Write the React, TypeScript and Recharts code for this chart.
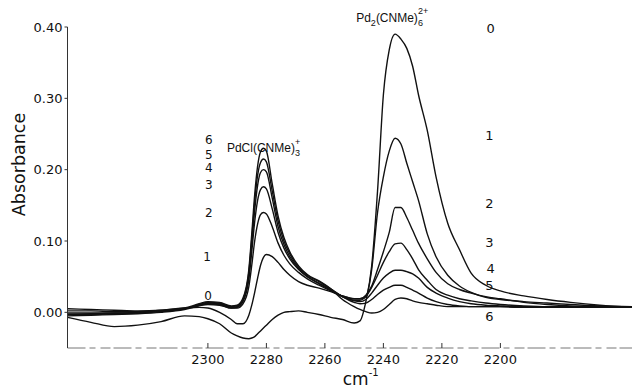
import React from 'react';
import { LineChart, Line, XAxis, YAxis, ReferenceDot } from 'recharts';

const wavenumber = [2348, 2340, 2332, 2324, 2316, 2308, 2303, 2300, 2296, 2292, 2290, 2288, 2286, 2285, 2284, 2283, 2282, 2281, 2280, 2278, 2276, 2274, 2272, 2269, 2266, 2262, 2258, 2254, 2250, 2248, 2246, 2244, 2242, 2240, 2238, 2236, 2234, 2232, 2230, 2228, 2225, 2222, 2218, 2214, 2210, 2205, 2200, 2192, 2184, 2176, 2166, 2155];

const trace0 = [-0.007, -0.014, -0.02, -0.018, -0.013, -0.005, -0.006, -0.009, -0.016, -0.029, -0.033, -0.036, -0.037, -0.036, -0.034, -0.03, -0.026, -0.022, -0.018, -0.01, -0.004, 0.0, 0.001, 0.002, 0.0, -0.003, -0.007, -0.01, -0.015, -0.012, 0.015, 0.065, 0.17, 0.305, 0.368, 0.39, 0.383, 0.37, 0.345, 0.305, 0.255, 0.19, 0.125, 0.088, 0.055, 0.038, 0.03, 0.023, 0.018, 0.014, 0.01, 0.007];
const trace1 = [-0.003, -0.002, -0.001, 0.0, 0.003, 0.006, 0.007, 0.006, 0.0, -0.01, -0.016, -0.016, -0.004, 0.01, 0.028, 0.048, 0.066, 0.077, 0.081, 0.078, 0.07, 0.06, 0.052, 0.043, 0.038, 0.034, 0.029, 0.023, 0.019, 0.019, 0.022, 0.06, 0.14, 0.19, 0.226, 0.244, 0.236, 0.209, 0.183, 0.157, 0.11, 0.078, 0.052, 0.037, 0.028, 0.021, 0.018, 0.015, 0.013, 0.011, 0.009, 0.008];
const trace2 = [-0.005, -0.004, -0.003, -0.002, 0.0, 0.004, 0.009, 0.011, 0.01, 0.006, 0.006, 0.012, 0.036, 0.066, 0.1, 0.124, 0.137, 0.14, 0.138, 0.12, 0.097, 0.08, 0.068, 0.056, 0.047, 0.038, 0.03, 0.023, 0.019, 0.019, 0.024, 0.037, 0.06, 0.085, 0.112, 0.147, 0.147, 0.133, 0.115, 0.097, 0.075, 0.056, 0.04, 0.032, 0.027, 0.022, 0.019, 0.014, 0.011, 0.009, 0.008, 0.007];
const trace3 = [-0.003, -0.003, -0.002, -0.001, 0.001, 0.005, 0.01, 0.012, 0.011, 0.006, 0.007, 0.015, 0.046, 0.085, 0.127, 0.157, 0.172, 0.176, 0.173, 0.145, 0.112, 0.09, 0.075, 0.06, 0.05, 0.04, 0.031, 0.022, 0.017, 0.017, 0.022, 0.035, 0.052, 0.07, 0.085, 0.096, 0.097, 0.088, 0.075, 0.06, 0.045, 0.032, 0.024, 0.019, 0.016, 0.013, 0.011, 0.009, 0.008, 0.008, 0.007, 0.007];
const trace4 = [-0.001, -0.001, -0.001, 0.0, 0.001, 0.005, 0.01, 0.013, 0.012, 0.007, 0.008, 0.017, 0.052, 0.096, 0.143, 0.178, 0.196, 0.2, 0.197, 0.16, 0.12, 0.095, 0.078, 0.061, 0.05, 0.041, 0.032, 0.022, 0.016, 0.015, 0.018, 0.027, 0.038, 0.048, 0.055, 0.059, 0.059, 0.057, 0.054, 0.048, 0.035, 0.027, 0.02, 0.015, 0.012, 0.01, 0.009, 0.008, 0.008, 0.007, 0.007, 0.007];
const trace5 = [0.002, 0.002, 0.001, 0.001, 0.002, 0.005, 0.011, 0.014, 0.013, 0.008, 0.009, 0.018, 0.056, 0.103, 0.155, 0.192, 0.21, 0.215, 0.211, 0.17, 0.128, 0.1, 0.082, 0.063, 0.052, 0.043, 0.033, 0.022, 0.014, 0.012, 0.013, 0.018, 0.025, 0.031, 0.035, 0.038, 0.038, 0.035, 0.031, 0.027, 0.02, 0.015, 0.011, 0.009, 0.008, 0.008, 0.008, 0.007, 0.007, 0.007, 0.007, 0.007];
const trace6 = [0.005, 0.004, 0.003, 0.002, 0.003, 0.006, 0.012, 0.015, 0.014, 0.009, 0.01, 0.02, 0.06, 0.11, 0.165, 0.205, 0.225, 0.23, 0.226, 0.18, 0.135, 0.105, 0.085, 0.065, 0.053, 0.044, 0.033, 0.018, 0.008, 0.004, 0.001, -0.001, 0.0, 0.004, 0.011, 0.018, 0.02, 0.019, 0.016, 0.014, 0.012, 0.01, 0.008, 0.008, 0.008, 0.008, 0.008, 0.007, 0.007, 0.007, 0.007, 0.007];

const traces = [trace0, trace1, trace2, trace3, trace4, trace5, trace6];
const traceKeys = ['t0', 't1', 't2', 't3', 't4', 't5', 't6'];

const xTicks = [2300, 2280, 2260, 2240, 2220, 2200];
const yTicks = [0, 0.1, 0.2, 0.3, 0.4];

// trace number labels: [label, wavenumber, absorbance]
const leftLabels: [string, number, number][] = [
  ['6', 2299.7, 0.2414], ['5', 2299.7, 0.2217], ['4', 2299.7, 0.2021], ['3', 2299.7, 0.1796],
  ['2', 2299.7, 0.1404], ['1', 2300.3, 0.0786], ['0', 2299.9, 0.0239],
];
const rightLabels: [string, number, number][] = [
  ['0', 2203.3, 0.3986], ['1', 2203.8, 0.248], ['2', 2203.8, 0.153], ['3', 2203.8, 0.098],
  ['4', 2203.3, 0.062], ['5', 2203.8, 0.038], ['6', 2203.8, -0.006],
];
const pdclTitle = { x: 2293.5, y: 0.2316 };
const pd2Title = { x: 2249.3, y: 0.414 };

const FONT = 'DejaVu Sans, sans-serif';
const TFONT = 'Liberation Sans, Arial, sans-serif';

const data = wavenumber.map((w, i) => {
  const row: any = { cm: w };
  traces.forEach((t, k) => { row[traceKeys[k]] = t[i]; });
  return row;
});

const XTick = (p: any) => (
  <g>
    <line x1={p.x} x2={p.x} y1={p.y} y2={p.y - 5} stroke="#333" strokeWidth={1} />
    <text x={p.x} y={p.y + 16} textAnchor="middle" fontSize={13} fontFamily={FONT} fill="#111">
      {p.payload.value}
    </text>
  </g>
);

const YTick = (p: any) => (
  <g>
    <line x1={p.x} x2={p.x - 3} y1={p.y} y2={p.y} stroke="#333" strokeWidth={1} />
    <text x={p.x - 5} y={p.y + 4.5} textAnchor="end" fontSize={13} fontFamily={FONT} fill="#111">
      {Number(p.payload.value).toFixed(2)}
    </text>
  </g>
);

const center = (vb: any) => ({
  cx: (vb?.x ?? 0) + (vb?.width ?? 0) / 2,
  cy: (vb?.y ?? 0) + (vb?.height ?? 0) / 2,
});

const numLabel = (txt: string, size: number) => ({
  content: (p: any) => {
    const { cx, cy } = center(p.viewBox);
    return (
      <text x={cx} y={cy + size * 0.36} textAnchor="middle" fontSize={size} fontFamily={FONT} fill="#111">
        {txt}
      </text>
    );
  },
});

const pdclLabel = {
  content: (p: any) => {
    const { cx, cy } = center(p.viewBox);
    return (
      <text x={cx} y={cy + 5} textAnchor="start" fontSize={12} fontFamily={TFONT} fill="#111">
        <tspan>PdCl(CNMe)</tspan>
        <tspan fontSize={9} dy={4}>3</tspan>
        <tspan fontSize={9} dx={-5} dy={-11}>+</tspan>
      </text>
    );
  },
};

const pd2Label = {
  content: (p: any) => {
    const { cx, cy } = center(p.viewBox);
    return (
      <text x={cx} y={cy + 5} textAnchor="start" fontSize={12} fontFamily={TFONT} fill="#111">
        <tspan>Pd</tspan>
        <tspan fontSize={9} dy={4}>2</tspan>
        <tspan dy={-4}>(CNMe)</tspan>
        <tspan fontSize={9} dy={4}>6</tspan>
        <tspan fontSize={9} dx={-5} dy={-12}>2+</tspan>
      </text>
    );
  },
};

const xAxisLabel = {
  content: (p: any) => {
    const vb = p.viewBox || {};
    const cx = (vb.x ?? 0) + (vb.width ?? 0) / 2;
    return (
      <text x={cx - 7} y={(vb.y ?? 0) + 37} textAnchor="start" fontSize={17} fontFamily={FONT} fill="#111">
        <tspan>cm</tspan>
        <tspan fontSize={10} dy={-9}>-1</tspan>
      </text>
    );
  },
};

const yAxisLabel = {
  content: (p: any) => {
    const vb = p.viewBox || {};
    const x = (vb.x ?? 0) + 25;
    const y = (vb.y ?? 0) + (vb.height ?? 0) / 2 - 23;
    return (
      <text x={x} y={y} textAnchor="middle" fontSize={17.5} fontFamily={FONT} fill="#111"
        transform={`rotate(-90 ${x} ${y})`}>
        Absorbance
      </text>
    );
  },
};

export default function App() {
  return (
    <div style={{ position: 'absolute', left: 0, top: 0, width: 632, height: 389, background: '#fff' }}>
      <LineChart width={632} height={389} data={data} margin={{ top: 27, right: 0, bottom: 0, left: 0 }}>
        <XAxis
          dataKey="cm"
          type="number"
          domain={[2155, 2348]}
          reversed
          ticks={xTicks}
          height={41}
          tickSize={0}
          tickMargin={0}
          tickLine={false}
          tick={<XTick />}
          axisLine={{ stroke: '#777', strokeWidth: 1, strokeDasharray: '18 4 6 5 10 3' }}
          allowDataOverflow
          interval={0}
          label={xAxisLabel}
        />
        <YAxis
          type="number"
          domain={[-0.05, 0.4]}
          ticks={yTicks}
          width={67.5}
          tickSize={0}
          tickMargin={0}
          tickLine={false}
          tick={<YTick />}
          axisLine={{ stroke: '#333', strokeWidth: 1 }}
          allowDataOverflow
          interval={0}
          label={yAxisLabel}
        />
        {traceKeys.map((k) => (
          <Line key={k} dataKey={k} type="monotone" stroke="#111" strokeWidth={1.4} dot={false}
            isAnimationActive={false} />
        ))}
        <ReferenceDot x={pdclTitle.x} y={pdclTitle.y} r={1} fill="none" stroke="none" ifOverflow="visible" label={pdclLabel} />
        <ReferenceDot x={pd2Title.x} y={pd2Title.y} r={1} fill="none" stroke="none" ifOverflow="visible" label={pd2Label} />
        {leftLabels.map(([t, x, y], i) => (
          <ReferenceDot key={'l' + i} x={x} y={y} r={1} fill="none" stroke="none" ifOverflow="visible" label={numLabel(t, 12)} />
        ))}
        {rightLabels.map(([t, x, y], i) => (
          <ReferenceDot key={'r' + i} x={x} y={y} r={1} fill="none" stroke="none" ifOverflow="visible" label={numLabel(t, 13)} />
        ))}
      </LineChart>
    </div>
  );
}
